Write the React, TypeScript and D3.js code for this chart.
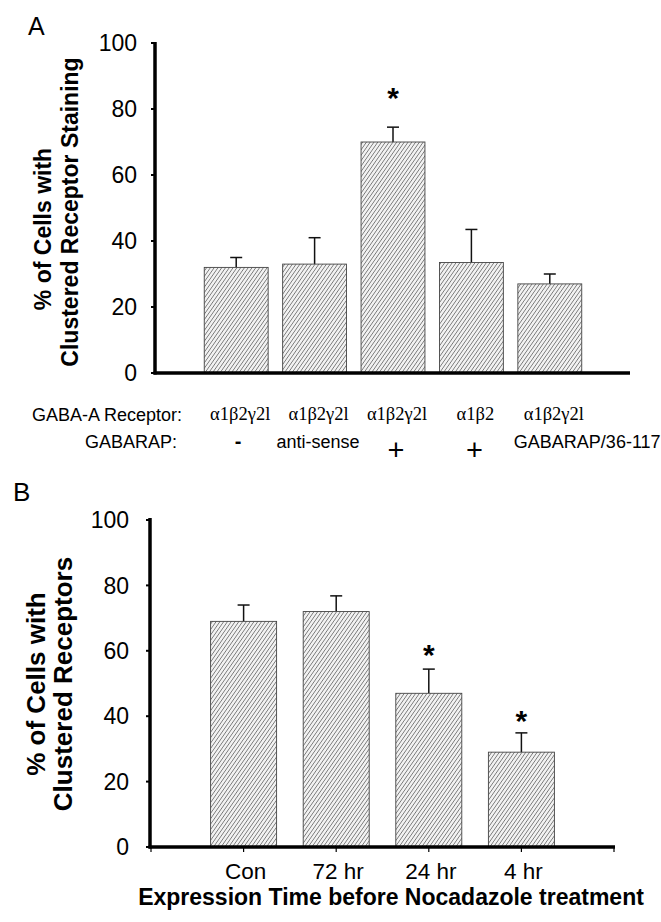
import React from "react";
import * as d3 from "d3";

// ---------- Panel A data ----------
const receptorLabels = ["α1β2γ2l", "α1β2γ2l", "α1β2γ2l", "α1β2", "α1β2γ2l"];
const gabarapLabels = ["-", "anti-sense", "+", "+", "GABARAP/36-117"];
const valuesA = [32, 33, 70, 33.5, 27];
const errorsA = [3, 8, 4.5, 10, 3];
const starsA = [null, null, 85, null, null];

// ---------- Panel B data ----------
const categoriesB = ["Con", "72 hr", "24 hr", "4 hr"];
const valuesB = [69, 72, 47, 29];
const errorsB = [5, 4.8, 7.4, 5.9];
const starsB = [null, null, 60.3, 40];

const yTicks = [0, 20, 40, 60, 80, 100];

const SANS = "'Liberation Sans', Arial, Helvetica, sans-serif";
const SERIF = "'Liberation Serif', 'Times New Roman', serif";

export default function App() {
  // Panel A scales
  const yA = d3.scaleLinear().domain([0, 100]).range([373, 43]);
  const idxA = receptorLabels.map((_, i) => String(i));
  const xA = d3
    .scaleBand<string>()
    .domain(idxA)
    .range([197, 589])
    .paddingInner(0.185)
    .paddingOuter(0.0925);
  const axA = 155;

  // Panel B scales
  const yB = d3.scaleLinear().domain([0, 100]).range([847, 520]);
  const xB = d3.scaleLinear().domain([0, categoriesB.length + 1]).range([151, 614]);
  const bwB = 66;
  const axB = 150;

  const hatch = "url(#hatch)";

  return (
    <svg
      width={661}
      height={922}
      style={{ position: "absolute", left: 0, top: 0, background: "#fff" }}
      fontFamily={SANS}
    >
      <defs>
        <pattern
          id="hatch"
          patternUnits="userSpaceOnUse"
          width={3.1}
          height={3.1}
          patternTransform="rotate(35)"
        >
          <rect width={3.1} height={3.1} fill="#f2f2f2" />
          <line x1={0} y1={0} x2={0} y2={3.1} stroke="#333" strokeWidth={1} />
        </pattern>
      </defs>
      <rect width={661} height={922} fill="#fff" />

      {/* ================= Panel A ================= */}
      <text x={28} y={35} fontSize={25}>A</text>

      {/* y label A */}
      <text
        transform={`translate(51,229) rotate(-90)`}
        textAnchor="middle"
        fontSize={23}
        fontWeight="bold"
      >
        % of Cells with
      </text>
      <text
        transform={`translate(78,212) rotate(-90)`}
        textAnchor="middle"
        fontSize={23}
        fontWeight="bold"
      >
        Clustered Receptor Staining
      </text>

      {/* bars A */}
      {valuesA.map((v, i) => {
        const x = xA(String(i))!;
        const w = xA.bandwidth();
        const cx = x + w / 2;
        const top = yA(v);
        const et = yA(v + errorsA[i]);
        return (
          <g key={"a" + i}>
            <line x1={cx} x2={cx} y1={top} y2={et} stroke="#111" strokeWidth={1.5} />
            <line x1={cx - 6} x2={cx + 6} y1={et} y2={et} stroke="#111" strokeWidth={1.5} />
            <rect
              x={x}
              y={top}
              width={w}
              height={yA(0) - top}
              fill={hatch}
              stroke="#444"
              strokeWidth={0.9}
            />
            {starsA[i] != null && (
              <text x={cx} y={yA(starsA[i] as number) + 15} textAnchor="middle" fontSize={30} fontWeight="bold">
                *
              </text>
            )}
          </g>
        );
      })}

      {/* axes A */}
      {yTicks.map((t) => (
        <g key={"ya" + t}>
          <line x1={axA - 4} x2={axA} y1={yA(t)} y2={yA(t)} stroke="#000" strokeWidth={2} />
          <text x={137} y={yA(t)} dy="0.36em" textAnchor="end" fontSize={23}>
            {t}
          </text>
        </g>
      ))}
      <line x1={axA} x2={axA} y1={yA(100) - 1} y2={yA(0) + 1.5} stroke="#000" strokeWidth={3.5} />
      <line x1={axA - 1.5} x2={630} y1={yA(0)} y2={yA(0)} stroke="#000" strokeWidth={3.5} />

      {/* category rows A */}
      <text x={32} y={421} fontSize={18}>GABA-A Receptor:</text>
      <text x={85} y={448} fontSize={18}>GABARAP:</text>
      {receptorLabels.map((l, i) => {
        const cx = xA(String(i))! + xA.bandwidth() / 2;
        return (
          <text key={"r" + i} x={cx + 4} y={420} textAnchor="middle" fontSize={18.5} fontFamily={SERIF}>
            {l}
          </text>
        );
      })}
      {gabarapLabels.map((l, i) => {
        const x0 = xA(String(i))!;
        const cx = x0 + xA.bandwidth() / 2;
        if (l === "+")
          return (
            <text key={"g" + i} x={cx + 3} y={459.5} textAnchor="middle" fontSize={29}>
              +
            </text>
          );
        if (l === "-")
          return (
            <text key={"g" + i} x={cx + 2} y={448} textAnchor="middle" fontSize={20} fontWeight="bold">
              -
            </text>
          );
        if (l.length > 12)
          return (
            <text key={"g" + i} x={x0 - 4} y={448} fontSize={18}>
              {l}
            </text>
          );
        return (
          <text key={"g" + i} x={cx + 3.5} y={448} textAnchor="middle" fontSize={18}>
            {l}
          </text>
        );
      })}

      {/* ================= Panel B ================= */}
      <text x={13} y={501} fontSize={26}>B</text>

      <text
        transform={`translate(45,684) rotate(-90)`}
        textAnchor="middle"
        fontSize={26}
        fontWeight="bold"
      >
        % of Cells with
      </text>
      <text
        transform={`translate(72,684) rotate(-90)`}
        textAnchor="middle"
        fontSize={26}
        fontWeight="bold"
      >
        Clustered Receptors
      </text>

      {valuesB.map((v, i) => {
        const cx = xB(i + 1);
        const top = yB(v);
        const et = yB(v + errorsB[i]);
        return (
          <g key={"b" + i}>
            <line x1={cx} x2={cx} y1={top} y2={et} stroke="#111" strokeWidth={1.5} />
            <line x1={cx - 6} x2={cx + 6} y1={et} y2={et} stroke="#111" strokeWidth={1.5} />
            <rect
              x={cx - bwB / 2}
              y={top}
              width={bwB}
              height={yB(0) - top}
              fill={hatch}
              stroke="#444"
              strokeWidth={0.9}
            />
            {starsB[i] != null && (
              <text x={cx} y={yB(starsB[i] as number) + 15} textAnchor="middle" fontSize={30} fontWeight="bold">
                *
              </text>
            )}
          </g>
        );
      })}

      {yTicks.map((t) => (
        <g key={"yb" + t}>
          <line x1={axB - 4} x2={axB} y1={yB(t)} y2={yB(t)} stroke="#000" strokeWidth={2} />
          <text x={129} y={yB(t)} dy="0.36em" textAnchor="end" fontSize={23}>
            {t}
          </text>
        </g>
      ))}
      {d3.range(0, categoriesB.length + 2).map((k) => (
        <line key={"xt" + k} x1={xB(k)} x2={xB(k)} y1={yB(0)} y2={yB(0) + 5} stroke="#000" strokeWidth={1.2} />
      ))}
      {categoriesB.map((c, i) => (
        <text key={"cb" + i} x={xB(i + 1) + 2} y={879} textAnchor="middle" fontSize={22.5}>
          {c}
        </text>
      ))}
      <line x1={axB} x2={axB} y1={yB(100) - 2} y2={yB(0) + 1.5} stroke="#000" strokeWidth={3.5} />
      <line x1={axB - 1.5} x2={615} y1={yB(0)} y2={yB(0)} stroke="#000" strokeWidth={3.5} />

      <text x={391} y={905} textAnchor="middle" fontSize={23} fontWeight="bold">
        Expression Time before Nocadazole treatment
      </text>
    </svg>
  );
}
